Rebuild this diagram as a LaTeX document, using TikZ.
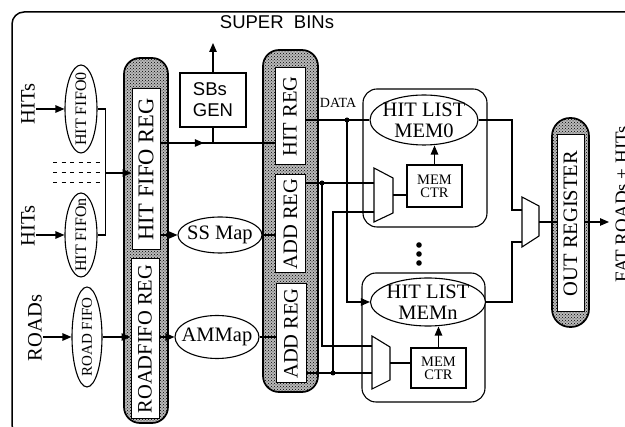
\documentclass[tikz,border=0pt]{standalone}
\usepackage{fontspec}
\setmainfont{Liberation Serif}
\newfontfamily\hvfont{Liberation Sans}
\usetikzlibrary{shapes.geometric,arrows.meta,patterns,decorations.markings}
\begin{document}
\begin{tikzpicture}[x=1pt,y=-1pt, line width=1.1pt,
  arr/.style={-{Triangle[length=9pt,width=7.5pt]}},
  pillst/.style={draw, line width=1.7pt, rounded corners=16pt, pattern=crosshatch dots, pattern color=black, preaction={fill=gray!55}, inner sep=0pt},
  regbox/.style={draw, fill=white, line width=1pt, inner sep=0pt, font=\fontsize{20.5}{22}\selectfont},
  ell/.style={ellipse, draw, line width=1.1pt, inner sep=0pt, fill=white},
  lbl/.style={inner sep=1pt, font=\fontsize{20.5}{22}\selectfont},
  memblk/.style={draw, rounded corners=14pt, line width=1.1pt, inner sep=0pt},
  ctrbox/.style={draw, line width=1.1pt, inner sep=0pt, font=\fontsize{14.5}{13}\selectfont, align=center},
  jdot/.style={circle, fill, inner sep=0pt, minimum size=5pt},
  muxst/.style={draw, line width=1.1pt, fill=white}
]
\useasboundingbox (0,0) rectangle (625,427);
\clip (0,0) rectangle (625,427);
\draw[line width=1.5pt, rounded corners=12pt] (12,12) rectangle (700,437);

% top
\node[font=\hvfont\fontsize{18.5}{20}\selectfont] (superbins) at (277,22) {SUPER\ \ BINs};
\node[draw, line width=1.1pt, minimum width=66pt, minimum height=54pt, align=left, font=\hvfont\fontsize{18.5}{21}\selectfont, inner sep=0pt] (sbgen) at (213,100) {SBs\\GEN};
\coordinate (sbout) at (213,43);

% pills
\node[pillst, minimum width=44pt, minimum height=365pt] (lpill) at (146,240.5) {};
\node[regbox, minimum width=28pt, minimum height=161pt, font=\fontsize{22.5}{24}\selectfont] (hfr) at (146,169.5) {\rotatebox{90}{HIT FIFO REG}};
\node[regbox, minimum width=28pt, minimum height=160pt] (rfr) at (145,339) {\rotatebox{90}{ROADFIFO REG}};

\node[pillst, minimum width=55pt, minimum height=342pt] (mpill) at (290.5,221) {};
\node[regbox, minimum width=30pt, minimum height=97pt] (hitreg) at (290,116.5) {\rotatebox{90}{HIT REG}};
\node[regbox, minimum width=30pt, minimum height=98pt] (add1) at (290.5,224) {\rotatebox{90}{ADD REG}};
\node[regbox, minimum width=30pt, minimum height=99pt] (add2) at (291,333.5) {\rotatebox{90}{ADD REG}};

\node[pillst, rounded corners=18pt, minimum width=37pt, minimum height=209pt] (opill) at (570.5,222.5) {};
\node[regbox, minimum width=27pt, minimum height=177pt] (outreg) at (570.5,223.5) {\rotatebox{90}{OUT REGISTER}};

% input side
\node[lbl] (hits1) at (28,104) {\rotatebox{90}{HITs}};
\node[lbl] (hits2) at (28,226) {\rotatebox{90}{HITs}};
\node[lbl] (roads) at (35,328) {\rotatebox{90}{ROADs}};

\node[ell, minimum width=32pt, minimum height=88pt, label={[font=\fontsize{16}{18}\selectfont]center:\rotatebox{90}{HIT FIFO0}}] (fifo0) at (81,109) {};
\node[ell, minimum width=32pt, minimum height=84pt, label={[font=\fontsize{16}{18}\selectfont]center:\rotatebox{90}{HIT FIFOn}}] (fifon) at (81,235) {};
\node[ell, minimum width=30pt, minimum height=100pt, label={[font=\fontsize{15}{17}\selectfont]center:\rotatebox{90}{ROAD FIFO}}] (roadfifo) at (87,337) {};

\node[ell, minimum width=84pt, minimum height=36pt, label={[font=\fontsize{20.5}{22}\selectfont]center:SS Map}] (ssmap) at (220,235) {};
\node[ell, minimum width=84pt, minimum height=43pt, label={[font=\fontsize{20.5}{22}\selectfont]center:AMMap}] (ammap) at (217,337) {};

\draw[arr] (hits1.east |- fifo0.west) -- (fifo0.west);
\draw[arr] (hits2.east |- fifon.west) -- (fifon.west);
\draw[arr] (roads.east |- roadfifo.west) -- (roadfifo.west);
\draw (fifo0.east) -- ++(8,0) |- (fifon.east);
\coordinate (busmid) at (105,173);
\draw[arr] (busmid) -- (hfr.west |- busmid);
\foreach \yy in {163,173,183} \draw[line width=1pt, dash pattern=on 4pt off 4.5pt] (53,\yy) -- (101,\yy);

\draw[arr] (roadfifo.east) -- (rfr.west |- roadfifo.east);
\draw[arr] (rfr.east |- ammap.west) -- (ammap.west);
\draw[arr] (hfr.east |- ssmap.west) -- (ssmap.west);
\draw (ssmap.east) -- (add1.west |- ssmap.east);
\draw (ammap.east) -- (add2.west |- ammap.east);

\coordinate (sbj) at (213,143);
\draw[postaction={decorate}, decoration={markings, mark=at position 0.38 with {\arrow{Triangle[length=9pt,width=7.5pt]}}}] (hfr.east |- sbj) -- (hitreg.west |- sbj);
\draw (sbgen.south) -- (sbj);
\draw[arr] (sbgen.north) -- (sbout);

% memory blocks
\node[memblk, minimum width=124pt, minimum height=138pt] (blk0) at (425,158) {};
\node[memblk, minimum width=123pt, minimum height=129pt] (blkn) at (423.5,337.5) {};

\node[ell, minimum width=108pt, minimum height=50pt, label={[font=\fontsize{20.5}{21}\selectfont, align=center]center:HIT LIST\\MEM0}] (mem0) at (424,120) {};
\node[ell, minimum width=115pt, minimum height=48pt, label={[font=\fontsize{20.5}{21}\selectfont, align=center]center:HIT LIST\\MEMn}] (memn) at (428,302) {};

\node[ctrbox, minimum width=55pt, minimum height=42pt] (ctr0) at (434.5,186) {MEM\\CTR};
\node[ctrbox, minimum width=55pt, minimum height=40pt] (ctrn) at (438.5,368) {MEM\\CTR};
\draw[arr] (ctr0.north) -- (ctr0.north |- mem0.south);
\draw[arr] (ctrn.north) -- (ctrn.north |- memn.south);

\draw[muxst] (374,168) -- (393,178) -- (393,213) -- (374,222) -- cycle;
\draw[muxst] (372,336) -- (390,347) -- (390,380) -- (372,389) -- cycle;
\draw[muxst] (522,197) -- (539,206) -- (539,236) -- (522,247) -- cycle;
\coordinate (m0a) at (374,183);
\coordinate (m0b) at (374,212);
\coordinate (m0o) at (393,195);
\coordinate (mna) at (372,346);
\coordinate (mnb) at (372,373);
\coordinate (mno) at (390,363);
\coordinate (fa) at (522,210);
\coordinate (fb) at (522,242);
\coordinate (fo) at (539,222);

\draw (m0o) -- (ctr0.west |- m0o);
\draw (mno) -- (ctrn.west |- mno);

\foreach \yy in {245,254,263} \fill (419,\yy) circle (2.8pt);

% DATA bus
\node[font=\fontsize{14}{16}\selectfont] (data) at (338,103) {DATA};
\draw (hitreg.east |- mem0.west) -- (mem0.west);
\node[jdot] (dj) at (347,120) {};
\draw[arr] (dj.center) |- (memn.west);

% address buses
\node[jdot] (j1) at (322,183) {};
\draw (add1.east |- j1) -- (m0a);
\draw (j1.center) |- (mna);
\node[jdot] (j2) at (333,373) {};
\draw (add2.east |- j2) -- (mnb);
\draw (j2.center) |- (m0b);

% outputs
\draw (mem0.east) -- (mem0.east -| 512,0) |- (fa);
\draw (memn.east) -- (memn.east -| 512,0) |- (fb);
\draw (fo) -- (outreg.west |- fo);
\coordinate (outend) at (609,222);
\draw[arr] (outreg.east |- fo) -- (outend);
\node[rotate=90, anchor=base, font=\fontsize{19}{21}\selectfont, inner sep=0pt] (fat) at (628,204) {FAT ROADs + HITs};
\end{tikzpicture}
\end{document}
